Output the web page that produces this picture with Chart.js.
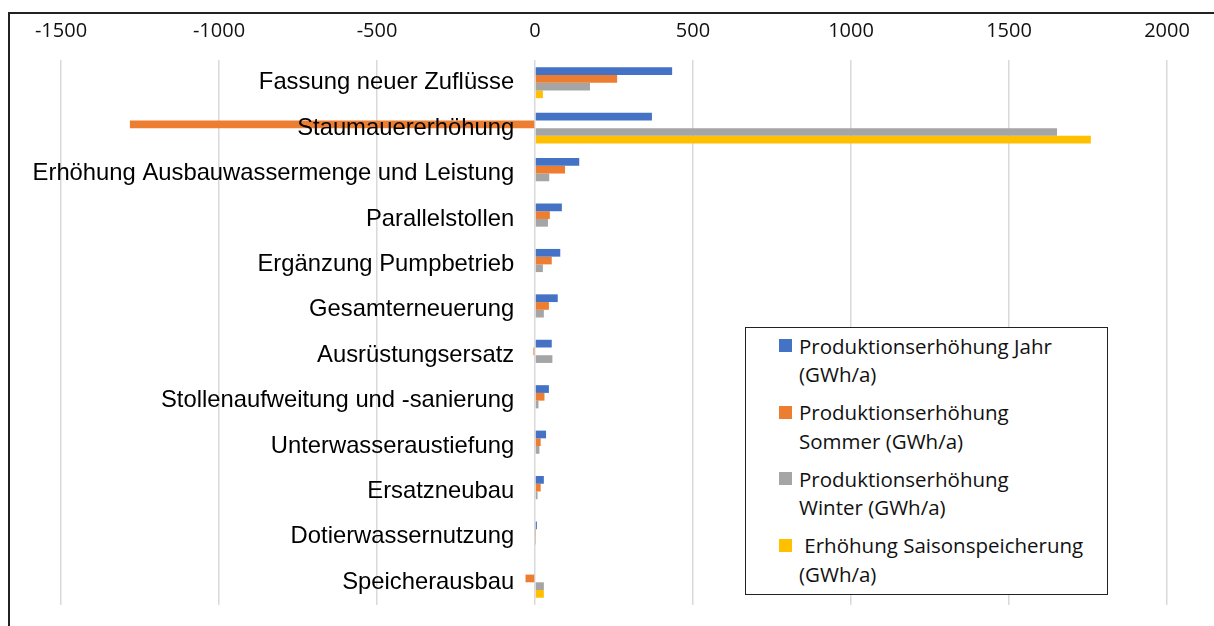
<!DOCTYPE html>
<html>
<head>
<meta charset="utf-8">
<script src="https://cdn.jsdelivr.net/npm/chart.js@4"></script>
<style>
  html, body { margin:0; padding:0; background:#fff; }
  #wrap { position:relative; width:1214px; height:626px; overflow:hidden; }
  #c { position:absolute; left:0; top:0; }
  #frame { position:absolute; left:8px; top:12px; width:1300px; height:700px; border-left:2px solid #222; border-top:2px solid #222; box-sizing:border-box; pointer-events:none; }
  #legend { position:absolute; left:745px; top:327px; width:363px; height:268px; border:1.5px solid #222; box-sizing:border-box; background:#fff;
    font-family:"Open Sans", sans-serif; font-size:20.5px; color:#111; line-height:28.5px; padding:3.5px 0 0 33px; }
  .item { position:relative; padding-left:20px; margin-bottom:9.5px; }
  .sw { position:absolute; left:0; top:7.5px; width:13px; height:13px; }
</style>
</head>
<body>
<div id="wrap">
  <canvas id="c" width="1214" height="626"></canvas>
  <div id="frame"></div>
  <div id="legend"></div>
</div>
<script>
const categories = [
  "Fassung neuer Zuflüsse",
  "Staumauererhöhung",
  "Erhöhung Ausbauwassermenge und Leistung",
  "Parallelstollen",
  "Ergänzung Pumpbetrieb",
  "Gesamterneuerung",
  "Ausrüstungsersatz",
  "Stollenaufweitung und -sanierung",
  "Unterwasseraustiefung",
  "Ersatzneubau",
  "Dotierwassernutzung",
  "Speicherausbau"
];
const seriesNames = [
  "Produktionserhöhung Jahr (GWh/a)",
  "Produktionserhöhung Sommer (GWh/a)",
  "Produktionserhöhung Winter (GWh/a)",
  " Erhöhung Saisonspeicherung (GWh/a)"
];
const legendLines = [
  ["Produktionserhöhung Jahr", "(GWh/a)"],
  ["Produktionserhöhung", "Sommer (GWh/a)"],
  ["Produktionserhöhung", "Winter (GWh/a)"],
  ["\u00a0Erhöhung Saisonspeicherung", "(GWh/a)"]
];
const jahr   = [434, 370, 140, 85, 80, 72, 53, 44, 35, 28, 6, 0];
const sommer = [260, -1282, 95, 47, 53, 44, -5, 30, 18, 18, 1, -30];
const winter = [174, 1652, 45, 41, 25, 28, 55, 11, 14, 8, 1, 28];
const saison = [25, 1759, 0, 0, 0, 0, 0, 0, 0, 0, 0, 28];
const xTicks = [-1500, -1000, -500, 0, 500, 1000, 1500, 2000];
const colors = ["#4472C4", "#ED7D31", "#A5A5A5", "#FFC000"];

const values = [jahr, sommer, winter, saison];
const datasets = values.map((v, i) => ({
  label: seriesNames[i],
  data: v,
  backgroundColor: colors[i],
  borderWidth: 0,
  categoryPercentage: 0.68,
  barPercentage: 1.0
}));

new Chart(document.getElementById('c'), {
  type: 'bar',
  data: { labels: categories, datasets },
  options: {
    responsive: false,
    animation: false,
    indexAxis: 'y',
    layout: { padding: { left: 61, right: 47, top: 0, bottom: 21 } },
    plugins: { legend: { display: false }, tooltip: { enabled: false } },
    scales: {
      x: {
        position: 'top',
        min: -1500, max: 2000,
        afterBuildTicks: (s) => { s.ticks = xTicks.map(v => ({ value: v })); },
        afterFit: (s) => { s.height = 60; },
        grid: { color: '#D9D9D9', lineWidth: 1.5, drawTicks: false },
        border: { display: false },
        ticks: { font: { family: 'Open Sans', size: 20 }, color: '#111', padding: 17, maxRotation: 0, autoSkip: false,
                 callback: (v) => String(v) }
      },
      y: {
        position: { x: -66 },
        grid: { display: false, drawTicks: false },
        border: { display: false },
        ticks: { z: 1, font: { family: 'Liberation Sans', size: 23.8 }, color: '#000', padding: 0, autoSkip: false }
      }
    }
  }
});

const lg = document.getElementById('legend');
legendLines.forEach((lines, i) => {
  const d = document.createElement('div');
  d.className = 'item';
  const sw = document.createElement('span');
  sw.className = 'sw';
  sw.style.background = colors[i];
  d.appendChild(sw);
  lines.forEach((t) => {
    const l = document.createElement('div');
    l.textContent = t;
    d.appendChild(l);
  });
  lg.appendChild(d);
});
</script>
</body>
</html>
